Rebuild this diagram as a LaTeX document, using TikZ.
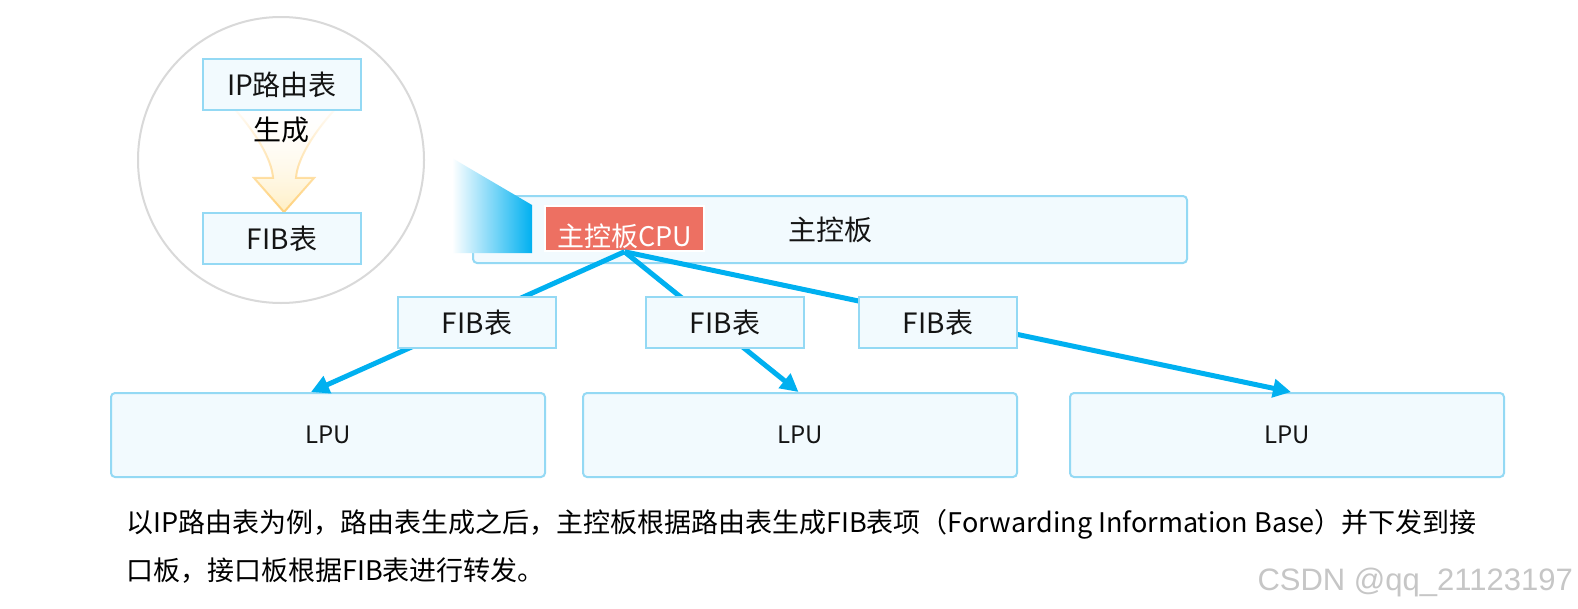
\documentclass[tikz,border=0pt]{standalone}
\usepackage{fontspec}
\setmainfont{Noto Sans CJK SC}
\newfontfamily\markfont{Liberation Sans}
\usepackage{xcolor}
\usepackage{tikz}
\usetikzlibrary{positioning,shapes,arrows.meta,fadings}

\definecolor{boxfill}{HTML}{F2FAFE}
\definecolor{boxline}{HTML}{94D9F4}
\definecolor{cpured}{HTML}{ED7062}
\definecolor{linkblue}{HTML}{00B0F0}
\definecolor{lensgray}{HTML}{D9D9D9}
\definecolor{genline}{HTML}{FFD27D}
\definecolor{genfill}{HTML}{FFEFC4}

\begin{document}
\begin{tikzpicture}[
    x=1pt, y=-1pt,
    tab/.style={rectangle, draw=boxline, fill=boxfill, line width=2pt, minimum width=158pt, minimum height=51pt, inner sep=0pt, text=black!92, font=\fontsize{28}{32}\selectfont},
    board/.style={tab, rounded corners=4pt},
    lpu/.style={board, minimum width=434pt, minimum height=84pt, font=\fontsize{24}{28}\selectfont},
    link/.style={draw=linkblue, line width=5pt, -{Triangle[length=18pt,width=18pt]}}
]
\useasboundingbox[fill=white] (0,0) rectangle (1578,608);

% Zoomed view
\node[circle, draw=lensgray, line width=2pt, minimum size=286pt, inner sep=0pt] (lens) at (281,160) {};
\shadedraw[top color=white, bottom color=genfill, draw=genline, line width=2pt, path fading=north]
    (230,104) .. controls (256,132) and (272,160) .. (273,178) -- (254,178) -- (284,212)
    -- (314,178) -- (296,178) .. controls (297,160) and (313,132) .. (340,104) -- cycle;
\node[tab] (iptab) at (282,84.5) {IP路由表};
\node[tab, below=101pt of iptab] (fibtop) {FIB表};
\node[font=\fontsize{28}{32}\selectfont] (gen) at (281,130) {生成};

% Main board
\node[board, minimum width=714pt, minimum height=67pt] (main) at (830,229.5) {主控板};
\shade[left color=white, right color=linkblue] (452,158) -- (532,205) -- (532,253) -- (452,253) -- cycle;
\node[rectangle, fill=cpured, draw=white, line width=1.5pt, minimum width=159pt, minimum height=45pt, inner sep=0pt,
    text=white, text height=36pt, text depth=0pt, font=\fontsize{27}{30}\selectfont] (cpu) at (624.5,228.5) {主控板CPU};

% Line cards
\node[lpu] (lpu1) at (328,435) {LPU};
\node[lpu, right=36pt of lpu1] (lpu2) {LPU};
\node[lpu, right=51pt of lpu2] (lpu3) {LPU};

% Paths
\draw[link] (cpu.south) -- ([xshift=-17pt]lpu1.north);
\draw[link] (cpu.south) -- ([xshift=-1.5pt]lpu2.north);
\draw[link] (cpu.south) -- ([xshift=4pt]lpu3.north);

% FIB copies
\node[tab] (fib1) at (477,322.5) {FIB表};
\node[tab, right=88pt of fib1] (fib2) {FIB表};
\node[tab, right=53pt of fib2] (fib3) {FIB表};

% Caption
\node[anchor=north west, align=left, inner sep=0pt, font=\fontsize{27}{48}\selectfont] (note) at (126,509)
    {以IP路由表为例，路由表生成之后，主控板根据路由表生成FIB表项（Forwarding Information Base）并下发到接\\口板，接口板根据FIB表进行转发。};
\node[anchor=east, inner sep=0pt, text=gray!45, font=\markfont\fontsize{31}{33}\selectfont] (mark) at (1573,582) {CSDN @qq\_21123197};

\end{tikzpicture}
\end{document}
